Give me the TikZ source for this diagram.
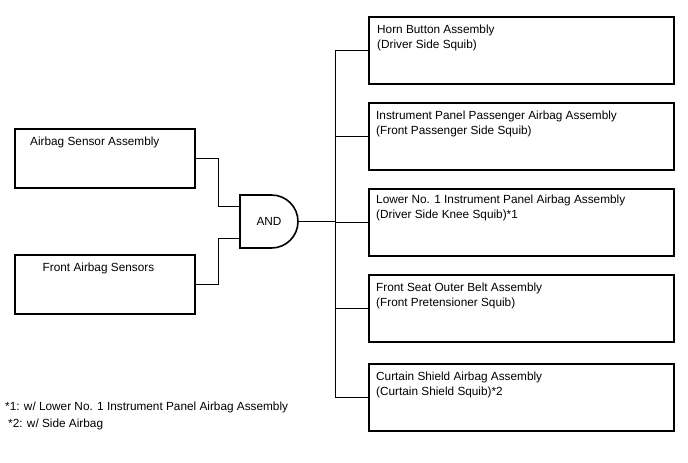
\documentclass[tikz,border=0pt]{standalone}
\usepackage{fontspec}
\setmainfont{Liberation Sans}
\usetikzlibrary{positioning}
\newcommand{\dgfont}{\fontsize{11.8}{15}\selectfont}

\begin{document}
\begin{tikzpicture}[
			x=1pt, y=1pt,
			unit/.style={rectangle, draw, line width=1.6pt, outer sep=0pt, inner sep=0pt},
			lbl/.style={inner sep=0pt, align=left, font=\dgfont},
			gate/.style={rectangle, inner sep=0pt, outer sep=0pt, minimum width=58pt, minimum height=53pt, font=\dgfont},
			wire/.style={line width=1pt}
			]
			\useasboundingbox (0,0) rectangle (688,-463);
			% inputs
			\node[unit, minimum width=180pt, minimum height=59pt] (asa) at (105,-158.5) {};
			\node[unit, minimum width=180pt, minimum height=59pt] (fas) at (105,-284.5) {};
			\node[lbl, below right=7.5pt and 15pt of asa.north west] (asat) {Airbag Sensor Assembly};
			\node[lbl, below right=8pt and 27.5pt of fas.north west] (fast) {Front Airbag Sensors};
			
			% and gate
			\node[gate] (andg) at (269,-221.5) {AND};
			\draw[line width=1.6pt] (andg.north west) -- ++(31.5,0) arc[start angle=90, end angle=-90, radius=26.5] -- (andg.south west) -- cycle;
			\coordinate (in1) at ([yshift=15.5pt]andg.west);
			\coordinate (in2) at ([yshift=-16.5pt]andg.west);
			
			% squibs
			\node[unit, minimum width=305pt, minimum height=67pt] (hb) at (521.5,-50.5) {};
			\node[unit, minimum width=305pt, minimum height=67pt, below=19pt of hb] (ipp) {};
			\node[unit, minimum width=305pt, minimum height=67pt, below=19pt of ipp] (lip) {};
			\node[unit, minimum width=305pt, minimum height=67pt, below=19pt of lip] (fsb) {};
			\node[unit, minimum width=305pt, minimum height=67pt, below=22pt of fsb] (csa) {};
			\node[lbl, below right=7.5pt and 8pt of hb.north west] (hbt) {Horn Button Assembly\\(Driver Side Squib)};
			\node[lbl, below right=8pt and 7pt of ipp.north west] (ippt) {Instrument Panel Passenger Airbag Assembly\\(Front Passenger Side Squib)};
			\node[lbl, below right=6pt and 7pt of lip.north west] (lipt) {Lower No. 1 Instrument Panel Airbag Assembly\\(Driver Side Knee Squib)*1};
			\node[lbl, below right=7.5pt and 7pt of fsb.north west] (fsbt) {Front Seat Outer Belt Assembly\\(Front Pretensioner Squib)};
			\node[lbl, below right=8pt and 7pt of csa.north west] (csat) {Curtain Shield Airbag Assembly\\(Curtain Shield Squib)*2};
			\coordinate (bus) at (335,-221.5);
			
			% notes
			\node[lbl, anchor=base west] (fn1) at (5,-410.5) {*1: w/ Lower No. 1 Instrument Panel Airbag Assembly};
			\node[lbl, anchor=base west] (fn2) at (8,-427.5) {*2: w/ Side Airbag};
			
			\draw[wire] (asa.east) -- ++(23,0) |- (in1);
			\draw[wire] (fas.east) -- ++(23,0) |- (in2);
			\draw[wire] (andg.east) -- (bus);
			\foreach \n in {hb,ipp,lip,fsb,csa}
				\draw[wire] (\n.west) -| (bus);
		\end{tikzpicture}
\end{document}
